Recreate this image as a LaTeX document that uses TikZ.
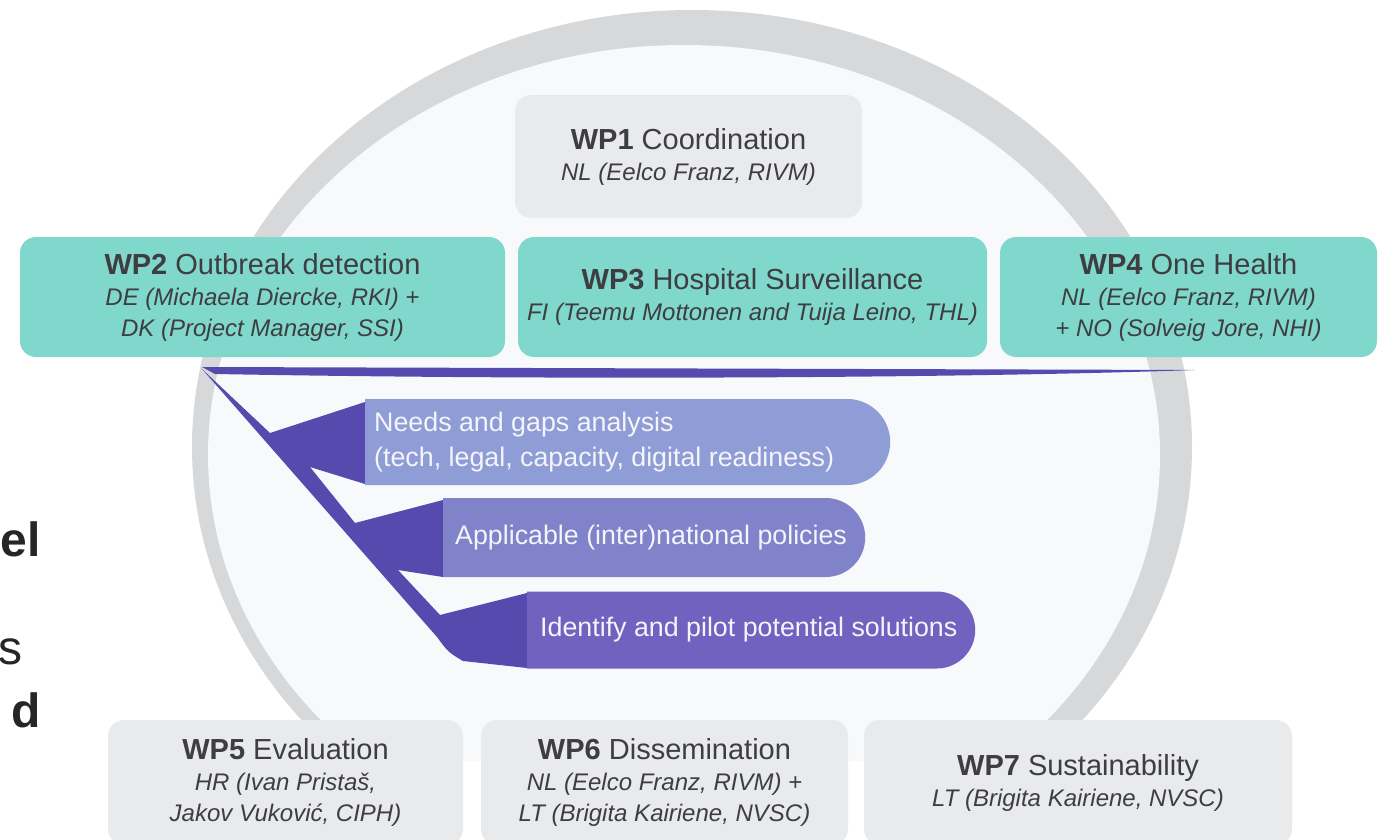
\documentclass[tikz,border=0pt]{standalone}
\usepackage{fontspec}
\setmainfont{Liberation Sans}
\usetikzlibrary{shapes.misc}
\definecolor{ringgray}{RGB}{214,216,218}
\definecolor{innerfill}{RGB}{248,249,250}
\definecolor{boxgray}{RGB}{233,234,236}
\definecolor{wpteal}{RGB}{128,215,204}
\definecolor{txtdark}{RGB}{62,62,64}
\definecolor{pdark}{RGB}{86,74,175}
\definecolor{pone}{RGB}{143,157,214}
\definecolor{ptwo}{RGB}{128,130,202}
\definecolor{pthree}{RGB}{112,98,190}
\definecolor{ptxt}{RGB}{244,244,250}
\newcommand{\wptitle}[2]{{\fontsize{29}{31}\selectfont\textbf{#1} #2}}
\newcommand{\wpsub}[1]{{\itshape #1}}
\begin{document}
\begin{tikzpicture}[x=1pt,y=-1pt,
  wpbox/.style={rectangle, rounded corners=16pt, inner sep=0pt, align=center,
    text=txtdark, font=\fontsize{24}{31}\selectfont},
  graybox/.style={wpbox, fill=boxgray},
  tealbox/.style={wpbox, fill=wpteal},
  pbox/.style={rounded rectangle, rounded rectangle left arc=none, inner sep=0pt, anchor=west},
  ptext/.style={anchor=west, align=left, inner sep=0pt, text=ptxt, font=\fontsize{26.8}{35}\selectfont},
  cuttext/.style={anchor=base east, inner sep=0pt, text=black!85, font=\fontsize{48}{50}\selectfont}
]
\useasboundingbox (0,0) rectangle (1378,840);
\fill[white] (0,0) rectangle (1378,840);

% ring (hidden below the bottom row)
\begin{scope}
\clip (0,0) rectangle (1378,760);
\fill[ringgray] (692,447) ellipse [x radius=500, y radius=437];
\fill[innerfill] (684,455) ellipse [x radius=476, y radius=410];
\end{scope}

% cut-off text at left edge
\node[cuttext, font=\fontsize{48}{50}\selectfont\bfseries] (c1) at (41,556) {el};
\node[cuttext] (c2) at (23,664) {s};
\node[cuttext, font=\fontsize{48}{50}\selectfont\bfseries] (c3) at (41,727) {d};

% purple connector
\fill[pdark] (202,367) -- (1195,370) .. controls (1000,377) and (600,381) .. (215,374) -- cycle;
\fill[pdark] (202,369) -- (270,433) -- (365,402) -- (365,484) -- (310,467)
  -- (355,523) -- (443,500) -- (443,577) -- (398,570)
  -- (440,615) -- (527,593) -- (527,668) -- (463,661)
  .. controls (448,652) .. (437,637) -- cycle;

% purple boxes
\node[pbox, fill=pone, minimum width=525pt, minimum height=86pt] (pb1) at (365,442) {};
\node[pbox, fill=ptwo, minimum width=422pt, minimum height=79pt] (pb2) at (443,537.5) {};
\node[pbox, fill=pthree, minimum width=448pt, minimum height=77pt] (pb3) at (527,630) {};
\node[ptext] (pt1) at ([xshift=9pt]pb1.west) {Needs and gaps analysis\\(tech, legal, capacity, digital readiness)};
\node[ptext] (pt2) at ([xshift=12pt]pb2.west) {Applicable (inter)national policies};
\node[ptext] (pt3) at ([xshift=13pt]pb3.west) {Identify and pilot potential solutions};

% work packages
\node[graybox, minimum width=347pt, minimum height=123pt] (wp1) at (688.5,156.5)
  {\wptitle{WP1}{Coordination}\\ \wpsub{NL (Eelco Franz, RIVM)}};
\node[tealbox, minimum width=485pt, minimum height=120pt] (wp2) at (262.5,297)
  {\wptitle{WP2}{Outbreak detection}\\ \wpsub{DE (Michaela Diercke, RKI) +}\\ \wpsub{DK (Project Manager, SSI)}};
\node[tealbox, minimum width=469pt, minimum height=120pt] (wp3) at (752.5,297)
  {\wptitle{WP3}{Hospital Surveillance}\\ \wpsub{FI (Teemu Mottonen and Tuija Leino, THL)}};
\node[tealbox, minimum width=377pt, minimum height=120pt] (wp4) at (1188.5,297)
  {\wptitle{WP4}{One Health}\\ \wpsub{NL (Eelco Franz, RIVM)}\\ \wpsub{+ NO (Solveig Jore, NHI)}};
\node[graybox, minimum width=355pt, minimum height=125pt] (wp5) at (285.5,782.5)
  {\wptitle{WP5}{Evaluation}\\ \wpsub{HR (Ivan Pristaš,}\\ \wpsub{Jakov Vuković, CIPH)}};
\node[graybox, minimum width=367pt, minimum height=125pt] (wp6) at (664.5,782.5)
  {\wptitle{WP6}{Dissemination}\\ \wpsub{NL (Eelco Franz, RIVM) +}\\ \wpsub{LT (Brigita Kairiene, NVSC)}};
\node[graybox, minimum width=428pt, minimum height=125pt] (wp7) at (1078,782.5)
  {\wptitle{WP7}{Sustainability}\\ \wpsub{LT (Brigita Kairiene, NVSC)}};
\end{tikzpicture}
\end{document}
